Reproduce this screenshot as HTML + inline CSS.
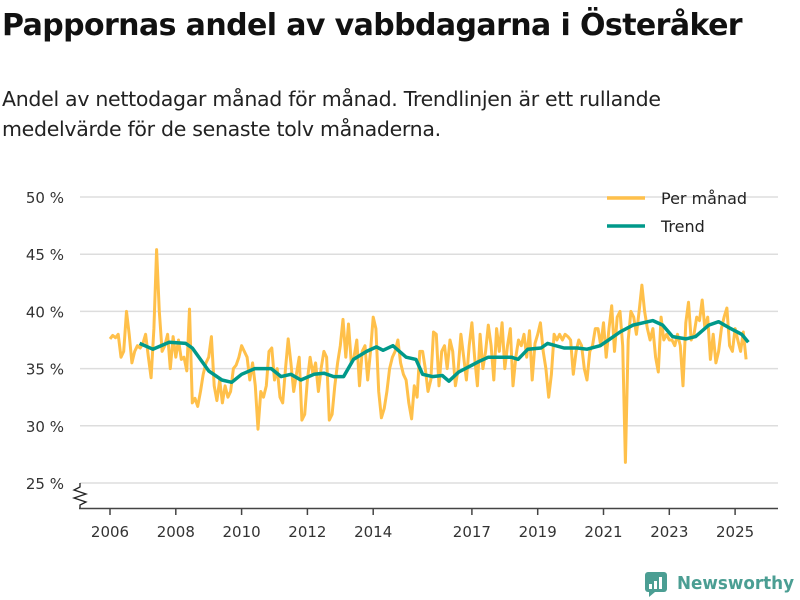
<!DOCTYPE html>
<html><head><meta charset="utf-8"><style>
body{margin:0;width:800px;height:600px;background:#fff;font-family:"Liberation Sans","DejaVu Sans",sans-serif;overflow:hidden;position:relative}
h1{position:absolute;left:2px;top:8px;margin:0;font-size:30px;font-weight:bold;color:#111;font-family:"DejaVu Sans","Liberation Sans",sans-serif;letter-spacing:-0.6px}
.sub{position:absolute;left:2px;top:84px;font-size:20.5px;line-height:30px;color:#222;font-family:"DejaVu Sans","Liberation Sans",sans-serif;letter-spacing:-0.3px}
svg{position:absolute;left:0;top:0}
text{font-family:"DejaVu Sans","Liberation Sans",sans-serif}
</style></head><body>
<h1>Pappornas andel av vabbdagarna i Österåker</h1>
<div class="sub">Andel av nettodagar månad för månad. Trendlinjen är ett rullande<br>medelvärde för de senaste tolv månaderna.</div>
<svg width="800" height="600" id="chart"></svg>
<script>
const yTicks=[25,30,35,40,45,50];
const xTicks=[2006,2008,2010,2012,2014,2017,2019,2021,2023,2025];
const startYear=2006;
const monthly=[
37.6,37.9,37.7,38.0,36.0,36.5,40.0,38.0,35.5,36.5,37.0,36.8,
37.2,38.0,36.0,34.2,38.5,45.4,40.0,36.5,37.0,38.0,35.0,37.8,
36.0,37.5,35.8,36.0,34.8,40.2,32.0,32.4,31.7,33.0,34.5,35.5,
36.0,37.8,33.5,32.2,34.0,32.0,33.5,32.5,33.0,35.0,35.3,36.0,
37.0,36.5,36.0,34.0,35.5,33.5,29.7,33.0,32.5,33.5,36.5,36.8,
34.0,35.0,32.5,32.0,35.0,37.6,35.5,33.0,34.5,36.0,30.5,31.0,
34.0,36.0,34.5,35.5,33.0,35.0,36.5,36.0,30.5,31.0,33.5,35.5,
37.0,39.3,36.0,38.9,35.5,36.0,37.5,33.5,36.5,37.0,34.0,36.5,
39.5,38.5,33.0,30.7,31.5,33.0,35.0,36.0,36.5,37.5,35.5,34.5,
34.0,32.0,30.6,33.5,32.5,36.5,36.5,35.0,33.0,34.0,38.2,38.0,
33.5,36.5,37.0,35.0,37.5,36.5,33.5,35.0,38.0,36.0,34.0,37.0,
39.0,36.0,33.5,38.0,35.0,36.5,38.8,37.0,34.0,38.5,36.5,39.0,
35.0,37.0,38.5,33.5,36.0,37.5,37.0,38.0,36.0,38.3,34.0,37.2,
38.0,39.0,36.5,35.0,32.5,34.5,38.0,37.5,38.0,37.5,38.0,37.8,
37.5,34.5,36.5,37.5,37.0,35.0,34.0,36.5,37.0,38.5,38.5,37.0,
39.0,36.0,38.5,40.5,36.5,39.5,40.0,37.0,26.8,37.5,40.0,39.5,
38.0,40.0,42.3,40.0,38.5,37.5,38.5,36.0,34.7,39.5,37.5,38.0,
37.5,37.5,37.0,38.0,37.0,33.5,39.0,40.8,37.5,38.0,39.5,39.2,
41.0,38.5,39.5,35.8,38.0,35.5,36.5,38.5,39.5,40.3,37.0,36.5,
38.5,37.5,36.5,38.2,35.8];
const trendDates=[2006.9,2007.3,2007.8,2008.3,2008.5,2009.0,2009.4,2009.7,2010.0,2010.4,2010.9,2011.2,2011.5,2011.8,2012.2,2012.5,2012.8,2013.1,2013.4,2013.8,2014.1,2014.3,2014.6,2015.0,2015.3,2015.5,2015.8,2016.1,2016.3,2016.6,2017.0,2017.2,2017.5,2017.9,2018.2,2018.4,2018.7,2019.1,2019.3,2019.8,2020.2,2020.5,2020.9,2021.2,2021.5,2021.9,2022.2,2022.5,2022.8,2023.1,2023.5,2023.8,2024.2,2024.5,2024.8,2025.2,2025.4];
const trendValues=[37.2,36.7,37.3,37.2,36.8,34.8,34.0,33.8,34.5,35.0,35.0,34.3,34.5,34.0,34.5,34.6,34.3,34.3,35.8,36.5,36.9,36.6,37.0,36.0,35.8,34.5,34.3,34.4,33.9,34.7,35.3,35.6,36.0,36.0,36.0,35.8,36.7,36.8,37.2,36.8,36.8,36.7,37.0,37.6,38.2,38.8,39.0,39.2,38.8,37.8,37.6,37.8,38.8,39.1,38.6,38.0,37.3];
const svg=document.getElementById('chart');const NS='http://www.w3.org/2000/svg';
const X=t=>110+(t-2006)*32.9;
const Y=v=>483-(v-25)*11.44;
function mk(tag,attrs,parent){const e=document.createElementNS(NS,tag);for(const k in attrs)e.setAttribute(k,attrs[k]);(parent||svg).appendChild(e);return e;}
yTicks.forEach(v=>{
 const l=mk('line',{x1:80,x2:778,y1:Y(v),y2:Y(v),stroke:'#dddddd','stroke-width':1.5});
 
 
 const t=mk('text',{x:64,y:Y(v)+6,'text-anchor':'end','font-size':15,fill:'#333'});
 t.textContent=v+' %';
 
 
});
const ax=mk('line',{x1:79,x2:778,y1:508.5,y2:508.5,stroke:'#444','stroke-width':1.5});


const zz=mk('polyline',{points:'80,483 80,487 74,490 86,494 74,498 86,502 80,505 80,508',fill:'none',stroke:'#222','stroke-width':1.3});


xTicks.forEach(y=>{
 const l=mk('line',{x1:X(y),x2:X(y),y1:508,y2:515,stroke:'#444','stroke-width':1.5});
 
 
 const t=mk('text',{x:X(y),y:537,'text-anchor':'middle','font-size':15,fill:'#333'});
 t.textContent=y;
 
 
});
const mp=monthly.map((v,i)=>X(startYear+i/12).toFixed(1)+','+Y(v).toFixed(1)).join(' ');
const ml=mk('polyline',{points:mp,fill:'none',stroke:'#ffc04a','stroke-width':3,'stroke-linejoin':'round'});


const tp=trendValues.map((v,i)=>X(trendDates[i]).toFixed(1)+','+Y(v).toFixed(1)).join(' ');
const tl=mk('polyline',{points:tp,fill:'none',stroke:'#00998a','stroke-width':3.5,'stroke-linejoin':'round'});


[['Per månad','#ffc04a',198],['Trend','#00998a',226]].forEach(([n,c,y])=>{
 const g=mk('g',{});
 
 
 mk('line',{x1:607,x2:645,y1:y,y2:y,stroke:c,'stroke-width':3.5},g);
 const t=mk('text',{x:661,y:y+6,'font-size':16,fill:'#222'},g);t.textContent=n;
});
const lg=mk('g',{});


mk('rect',{x:645,y:572,width:22,height:20,rx:3,fill:'#4b9e93'},lg);
mk('polygon',{points:'649,592 655,592 649,597',fill:'#4b9e93'},lg);
mk('rect',{x:649,y:584,width:3,height:5,fill:'#fff'},lg);
mk('rect',{x:654,y:581,width:3,height:8,fill:'#fff'},lg);
mk('rect',{x:659,y:577,width:3,height:12,fill:'#fff'},lg);
const lt=mk('text',{x:677,y:589,'font-size':17.5,'font-weight':'bold',fill:'#4b9e93',textLength:117,lengthAdjust:'spacingAndGlyphs'},lg);lt.textContent='Newsworthy';
</script>
</body></html>
